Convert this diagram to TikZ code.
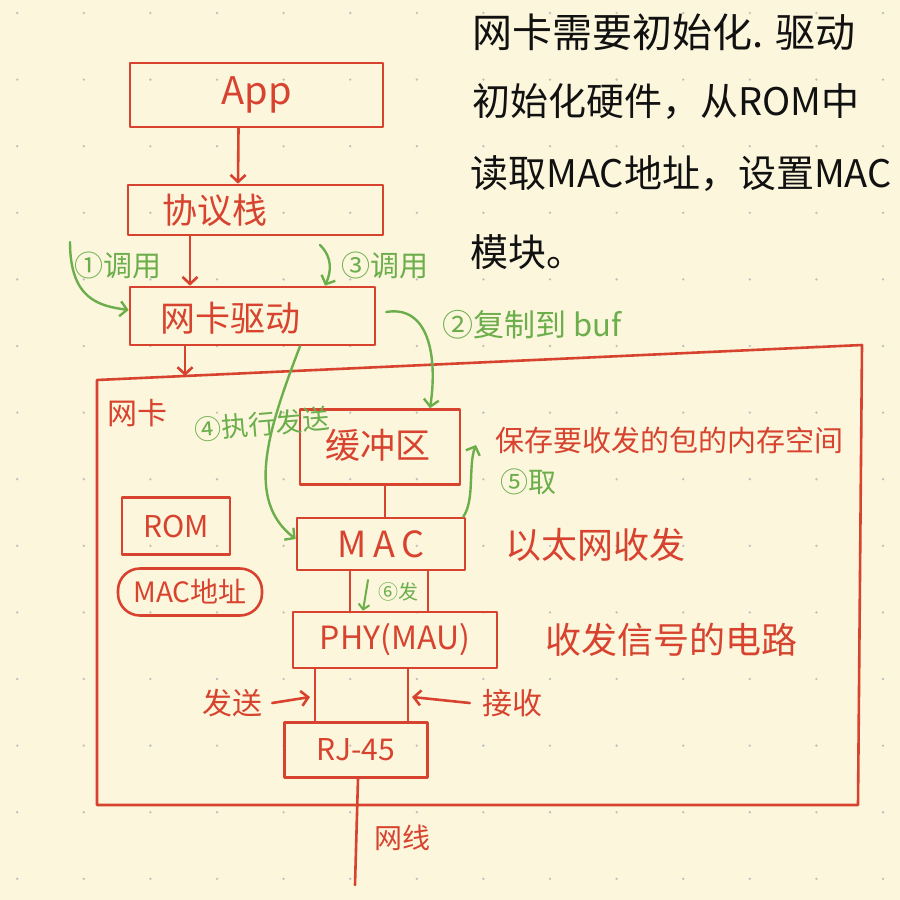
\documentclass[tikz,border=0pt]{standalone}
\usepackage{fontspec}
\setmainfont{Noto Sans CJK SC}
\usetikzlibrary{arrows.meta}
\definecolor{bg}{HTML}{FBF6DC}
\definecolor{pen}{HTML}{D8432F}
\definecolor{grn}{HTML}{6BAE4B}
\definecolor{ink}{HTML}{111111}
\newcommand\myfs[1]{\fontsize{#1}{#1}\selectfont}
\begin{document}
\begin{tikzpicture}[x=1pt,y=-1pt,
  rbox/.style={draw=pen, line width=2.6pt, text=pen, inner sep=0pt, line join=round},
  rline/.style={draw=pen, line width=2.6pt, line cap=round, line join=round},
  rarr/.style={rline, -{Straight Barb[length=7pt,width=15pt,line width=2.6pt]}},
  garr/.style={draw=grn, line width=2.4pt, line cap=round, -{Straight Barb[length=7pt,width=15pt,line width=2.4pt]}},
  rtxt/.style={text=pen, inner sep=0pt, font=\myfs{35}},
  gtxt/.style={text=grn, inner sep=0pt, font=\myfs{29}},
  btxt/.style={text=ink, inner sep=0pt, font=\myfs{38}, anchor=west}]
\fill[bg] (0,0) rectangle (900,900);
\useasboundingbox (0,0) rectangle (900,900);
\foreach \i in {0,...,13} \foreach \j in {0,...,13}
  \fill[black!25] (17.2+66.6*\i, 13+66.6*\j) circle (1.3);

% top-right note
\node[btxt, font=\myfs{40}] (n1) at (472,32) {网卡需要初始化. 驱动};
\node[btxt] (n2) at (472,102) {初始化硬件，从ROM中};
\node[btxt] (n3) at (470,174) {读取MAC地址，设置MAC};
\node[btxt] (n4) at (470,252) {模块。};

% upper stack
\node[rbox, minimum width=253, minimum height=64, font=\myfs{38}] (app) at (256.5,95) {App};
\node[rbox, minimum width=255, minimum height=50] (stack) at (255.5,210) {};
\node[rtxt] (stackt) at (215,210) {协议栈};
\node[rbox, minimum width=245, minimum height=58] (drv) at (252.5,316) {};
\node[rtxt] (drvt) at (230,318) {网卡驱动};

\draw[rarr] ([xshift=-18]app.south) -- ([xshift=-17.5]stack.north);
\draw[rarr] ([xshift=-65.5]stack.south) -- ([xshift=-62.5]drv.north);

% card outline
\coordinate (c1) at (97,380);
\coordinate (c2) at (862,345);
\coordinate (c3) at (858,805);
\coordinate (c4) at (97,805);
\draw[rline] (c1) -- (c2) -- (c3) -- (c4) -- cycle;
\coordinate (cardtop) at (185,376);
\draw[rarr] ([xshift=-67.5]drv.south) -- (cardtop);
\node[rtxt, font=\myfs{30}] (cardt) at (137,413) {网卡};

% card components
\node[rbox, minimum width=160, minimum height=75] (buf) at (380,447) {};
\node[rtxt] (buft) at (378,445) {缓冲区};
\node[rbox, minimum width=168, minimum height=52, font=\myfs{36}] (mac) at (381,544) {M\,A\,C};
\node[rbox, minimum width=108, minimum height=57, font=\myfs{30}] (rom) at (176,526) {ROM};
\node[rbox, rounded corners=22, minimum width=144, minimum height=47, font=\myfs{28}] (macaddr) at (190,592) {MAC地址};
\node[rbox, minimum width=204, minimum height=56, font=\myfs{32}] (phy) at (395,640) {PHY(MAU)};
\node[rbox, minimum width=143, minimum height=55, font=\myfs{30}] (rj) at (356,750) {RJ-45};

\draw[rline] ([xshift=5]buf.south) -- ([xshift=4]mac.north);
\draw[rline] ([xshift=-31]mac.south) -- ([xshift=-45]phy.north);
\draw[rline] ([xshift=47]mac.south) -- ([xshift=33]phy.north);
\draw[rline] ([xshift=-80]phy.south) -- ([xshift=-41]rj.north);
\draw[rline] ([xshift=13]phy.south) -- ([xshift=52]rj.north);
\coordinate (wire) at (355,885);
\draw[rline] ([xshift=2]rj.south) -- (wire);
\node[rtxt, font=\myfs{28}] (wiret) at (402,838) {网线};

% send / receive
\node[rtxt, font=\myfs{30}] (send) at (232,703) {发送};
\coordinate (sendpt) at (310,697);
\draw[rarr] ([xshift=10]send.east) -- (sendpt);
\node[rtxt, font=\myfs{30}] (recv) at (512,703) {接收};
\coordinate (recvpt) at (412,697);
\draw[rarr] ([xshift=-12]recv.west) -- (recvpt);

% right descriptions
\node[rtxt, anchor=west, font=\myfs{29}] (bufd) at (495,440) {保存要收发的包的内存空间};
\node[rtxt, anchor=west, font=\myfs{36}] (macd) at (505,545) {以太网收发};
\node[rtxt, anchor=west, font=\myfs{36}] (phyd) at (545,640) {收发信号的电路};

% green annotations
\node[gtxt] (g1) at (118,265) {①调用};
\coordinate (g1s) at (70,242);
\draw[garr] (g1s) .. controls (70,300) and (100,306) .. ([yshift=6]drv.west);

\node[gtxt] (g3) at (385,265) {③调用};
\coordinate (g3s) at (320,245);
\draw[garr] (g3s) .. controls (333,258) and (331,272) .. ([xshift=72.5]drv.north);

\node[gtxt, anchor=west, font=\myfs{31}] (g2) at (442,325) {②复制到 buf};
\draw[garr] ([xshift=10,yshift=4]drv.east) .. controls (428,305) and (438,355) .. ([xshift=50]buf.north);

\node[gtxt, font=\myfs{27}, rotate=5] (g4) at (262,424) {④执行发送};
\draw[garr] ([xshift=47.5]drv.south) .. controls (268,430) and (245,500) .. ([yshift=5]mac.west);

\node[gtxt, font=\myfs{28}] (g5) at (528,482) {⑤取};
\coordinate (takept) at (476,445);
\draw[garr] ([xshift=-3]mac.north east) .. controls (475,500) and (468,465) .. (takept);

\node[gtxt, font=\myfs{20}] (g6) at (398,592) {⑥发};
\coordinate (g6s) at (368,580);
\draw[garr, -{Straight Barb[length=5pt,width=11pt,line width=2pt]}, line width=2pt] (g6s) -- ([xshift=-32]phy.north);
\end{tikzpicture}
\end{document}
